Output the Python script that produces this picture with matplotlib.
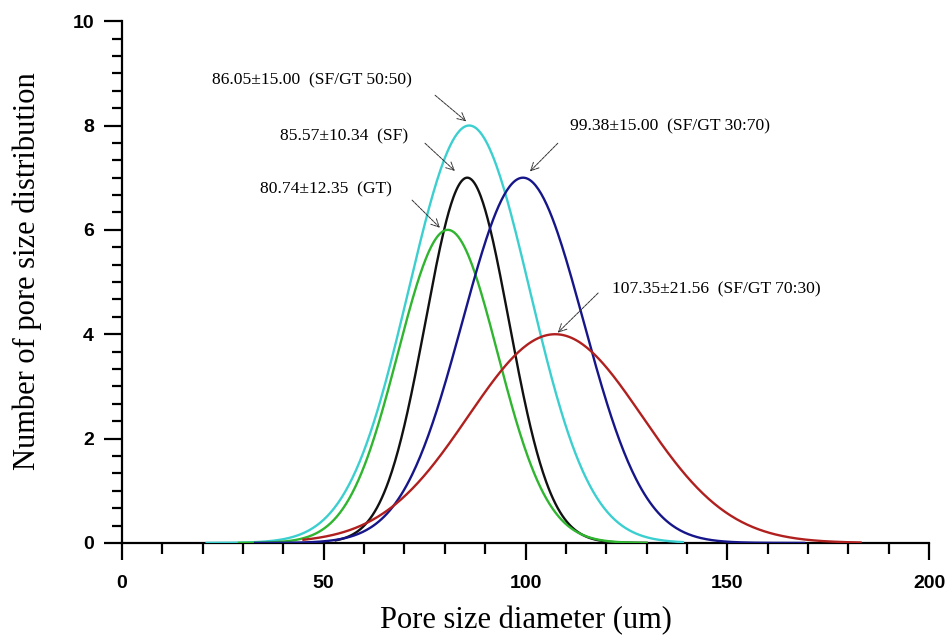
import numpy as np
import matplotlib
matplotlib.use("Agg")
import matplotlib.pyplot as plt
from matplotlib.ticker import MultipleLocator, AutoMinorLocator

# fitted pore size distributions: mean, sd, peak count, drawn x range
labels = ["SF/GT 50:50", "SF", "GT", "SF/GT 30:70", "SF/GT 70:30"]
means = [86.05, 85.57, 80.74, 99.38, 107.35]
sds = [15.00, 10.34, 12.35, 15.00, 21.56]
peaks = [8, 7, 6, 7, 4]
x_start = [21, 53, 29, 33, 45]
x_end = [139, 130, 130, 169, 183]
colors = ["#3ccfcf", "#111111", "#2fb52f", "#16168a", "#b0201e"]

# annotation text anchors and arrow tails/heads (data units)
text_pos = [(22.3, 8.87), (39.2, 7.80), (34.2, 6.78), (111.0, 7.99), (121.4, 4.85)]
tail_pos = [(77.6, 8.58), (75.1, 7.66), (71.9, 6.57), (108.0, 7.66), (118.0, 4.79)]
head_pos = [(85.3, 8.08), (82.5, 7.13), (78.8, 6.04), (101.1, 7.12), (108.0, 4.03)]

fig = plt.figure(figsize=(9.52, 6.41), dpi=100)
ax = fig.add_axes([0.128, 0.153, 0.848, 0.814])

for i in range(len(labels)):
    x = np.linspace(x_start[i], x_end[i], 400)
    y = peaks[i] * np.exp(-0.5 * ((x - means[i]) / sds[i]) ** 2)
    ax.plot(x, y, color=colors[i], lw=1.7, zorder=3)

    txt = "%.2f\u00b1%.2f  (%s)" % (means[i], sds[i], labels[i])
    ax.text(text_pos[i][0], text_pos[i][1], txt, fontsize=12.6,
            family="Liberation Serif", va="center", ha="left")
    ax.annotate("", xy=head_pos[i], xytext=tail_pos[i],
                arrowprops=dict(arrowstyle="->", color="#333333", lw=0.7,
                                linestyle=(0, (3, 1)), shrinkA=0, shrinkB=0,
                                mutation_scale=14))

ax.set_xlim(0, 200)
ax.set_ylim(0, 10)
ax.xaxis.set_major_locator(MultipleLocator(50))
ax.xaxis.set_minor_locator(MultipleLocator(10))
ax.yaxis.set_major_locator(MultipleLocator(2))
ax.yaxis.set_minor_locator(AutoMinorLocator(6))

for side in ["top", "right"]:
    ax.spines[side].set_visible(False)
for side in ["left", "bottom"]:
    ax.spines[side].set_linewidth(1.6)

ax.tick_params(axis="both", which="both", direction="out", width=1.6)
ax.tick_params(axis="y", which="major", length=13, pad=7)
ax.tick_params(axis="y", which="minor", length=7)
ax.tick_params(axis="x", which="major", length=12, pad=11)
ax.tick_params(axis="x", which="minor", length=8)
for lab in ax.get_xticklabels() + ax.get_yticklabels():
    lab.set_fontfamily("Liberation Sans")
    lab.set_fontweight("bold")
    lab.set_fontsize(14)

ax.set_xlabel("Pore size diameter (um)", family="Liberation Serif",
              fontsize=22, labelpad=10)
ax.set_ylabel("Number of pore size distribution", family="Liberation Serif",
              fontsize=22)
ax.yaxis.set_label_coords(-0.099, 0.52)

fig.savefig("out.png", dpi=100)
